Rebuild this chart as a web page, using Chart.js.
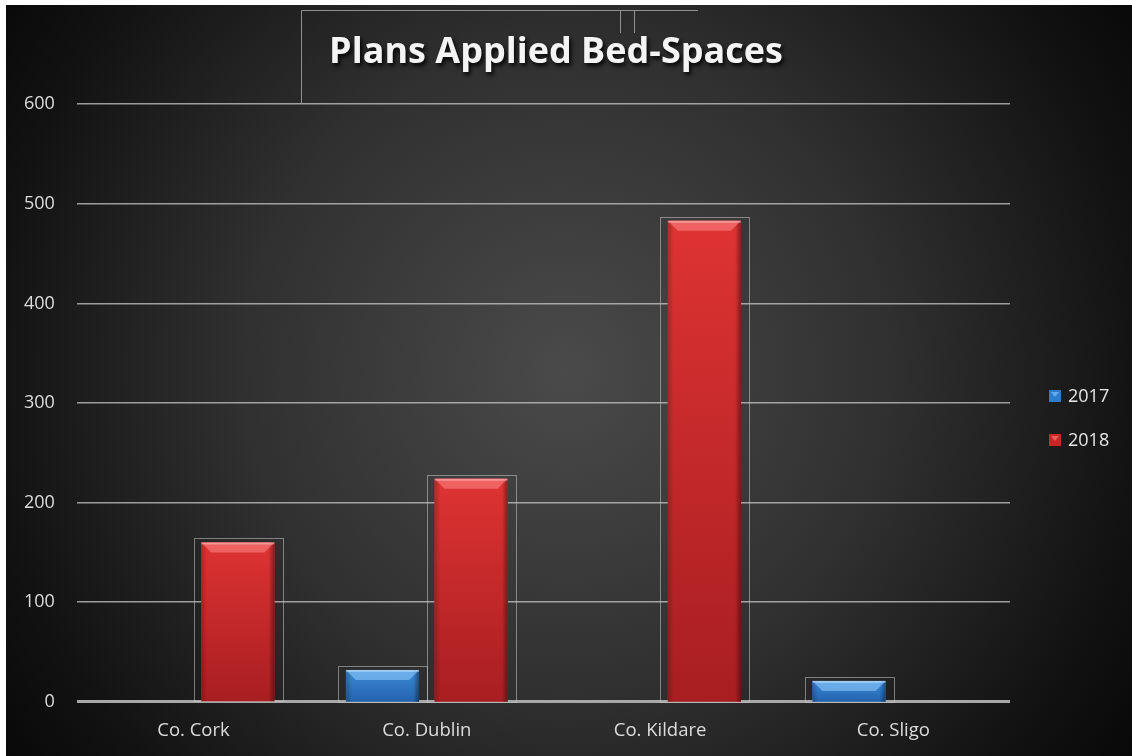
<!DOCTYPE html>
<html>
<head>
<meta charset="utf-8">
<script src="https://cdn.jsdelivr.net/npm/chart.js@4.4.1/dist/chart.umd.min.js"></script>
<style>
  html, body { margin: 0; padding: 0; background: #ffffff; }
  #wrap { width: 1132px; height: 756px; position: relative; }
</style>
</head>
<body>
<div id="wrap"><canvas id="c" width="1132" height="756"></canvas></div>
<script>
const categories = ['Co. Cork', 'Co. Dublin', 'Co. Kildare', 'Co. Sligo'];
const seriesNames = ['2017', '2018'];
const values2017 = [null, 32, null, 21];
const values2018 = [160, 224, 483, null];
const yTicks = [0, 100, 200, 300, 400, 500, 600];
const titleText = 'Plans Applied Bed-Spaces';

const bgPlugin = {
  id: 'bg',
  beforeDraw(chart) {
    const ctx = chart.ctx;
    const W = chart.width, H = chart.height;
    ctx.save();
    ctx.fillStyle = '#ffffff';
    ctx.fillRect(0, 0, W, H);
    const g = ctx.createRadialGradient(566, 370, 0, 566, 370, 720);
    g.addColorStop(0, '#4a4a4a');
    g.addColorStop(0.45, '#303030');
    g.addColorStop(0.8, '#121212');
    g.addColorStop(1, '#050505');
    ctx.fillStyle = g;
    ctx.fillRect(6, 5, W - 6, H - 5);
    ctx.strokeStyle = 'rgba(170,170,170,0.8)';
    ctx.lineWidth = 1;
    ctx.beginPath();
    ctx.moveTo(301.5, 103); ctx.lineTo(301.5, 10.5); ctx.lineTo(698, 10.5);
    ctx.moveTo(620.5, 10.5); ctx.lineTo(620.5, 33);
    ctx.moveTo(634.5, 10.5); ctx.lineTo(634.5, 33);
    ctx.stroke();
    ctx.restore();
  }
};

function shade(ctx, x0, y0, x1, y1, stops) {
  const g = ctx.createLinearGradient(x0, y0, x1, y1);
  stops.forEach(s => g.addColorStop(s[0], s[1]));
  return g;
}

const bevelPlugin = {
  id: 'bevel',
  afterDatasetsDraw(chart) {
    const ctx = chart.ctx;
    const base = chart.scales.y.getPixelForValue(0);
    chart.data.datasets.forEach((ds, di) => {
      const meta = chart.getDatasetMeta(di);
      if (meta.hidden) return;
      const pal = ds._pal;
      meta.data.forEach((bar, i) => {
        if (ds.data[i] == null) return;
        const w = bar.width, x = bar.x - w / 2, top = bar.y, h = base - top;
        ctx.save();
        ctx.fillStyle = shade(ctx, 0, top, 0, base, [[0, pal.top], [1, pal.bottom]]);
        ctx.fillRect(x, top, w, h);
        ctx.fillStyle = shade(ctx, x, 0, x + w, 0, [[0, 'rgba(0,0,0,0.2)'], [0.08, 'rgba(0,0,0,0)'], [0.92, 'rgba(0,0,0,0)'], [1, 'rgba(0,0,0,0.4)']]);
        ctx.fillRect(x, top, w, h);
        const b = Math.min(10, h / 2);
        ctx.fillStyle = pal.bevel;
        ctx.beginPath();
        ctx.moveTo(x, top); ctx.lineTo(x + w, top); ctx.lineTo(x + w - b, top + b); ctx.lineTo(x + b, top + b);
        ctx.closePath(); ctx.fill();
        ctx.fillStyle = 'rgba(255,255,255,0.35)';
        ctx.fillRect(x, top, w, 2);
        const slot = w / 0.825;
        ctx.strokeStyle = 'rgba(200,200,200,0.55)';
        ctx.lineWidth = 1;
        ctx.strokeRect(Math.round(bar.x - slot / 2) + 0.5, Math.round(top - 4) + 0.5, Math.round(slot), Math.round(base - top + 4));
        ctx.restore();
      });
    });
  }
};

const legendPlugin = {
  id: 'sideLegend',
  afterDraw(chart) {
    const ctx = chart.ctx;
    const x0 = 1049, ys = [396, 440];
    ctx.save();
    ctx.font = '18px "Open Sans"';
    ctx.textBaseline = 'middle';
    chart.data.datasets.forEach((ds, i) => {
      const y = ys[i];
      const pal = ds._pal;
      ctx.fillStyle = ds.backgroundColor;
      ctx.fillRect(x0, y - 6, 12, 12);
      ctx.fillStyle = pal.bevel;
      ctx.beginPath();
      ctx.moveTo(x0 + 2, y - 4); ctx.lineTo(x0 + 10, y - 4); ctx.lineTo(x0 + 6, y + 1);
      ctx.closePath(); ctx.fill();
      ctx.fillStyle = '#e6e6e6';
      ctx.fillText(ds.label, x0 + 19, y + 1);
    });
    ctx.restore();
  }
};

const ctx = document.getElementById('c').getContext('2d');
const chart = new Chart(ctx, {
  type: 'bar',
  data: {
    labels: categories,
    datasets: [
      { label: seriesNames[0], data: values2017, backgroundColor: '#2f7ccc', borderWidth: 0,
        _pal: { top: '#3a8ad8', bottom: '#2462ac', bevel: 'rgba(140,200,250,0.6)' } },
      { label: seriesNames[1], data: values2018, backgroundColor: '#c42828', borderWidth: 0,
        _pal: { top: '#de3333', bottom: '#a81e21', bevel: 'rgba(250,130,130,0.6)' } }
    ]
  },
  options: {
    responsive: false,
    animation: false,
    devicePixelRatio: 1,
    layout: { padding: { left: 2, right: 122, top: 5, bottom: 4 } },
    datasets: { bar: { barPercentage: 0.825, categoryPercentage: 0.76 } },
    plugins: {
      title: {
        display: true,
        text: titleText,
        color: '#f4f4f4',
        font: { family: 'Open Sans', size: 36, weight: 'bold' },
        padding: { top: 26, bottom: 30 }
      },
      legend: { display: false },
      tooltip: { enabled: false }
    },
    scales: {
      x: {
        grid: { display: false },
        border: { display: false },
        ticks: { color: '#dcdcdc', font: { family: 'Open Sans', size: 18.5 }, padding: 10 }
      },
      y: {
        min: 0, max: 600,
        afterBuildTicks(scale) { scale.ticks = yTicks.map(v => ({ value: v })); },
        border: { display: false },
        grid: {
          drawTicks: false,
          color: c => c.tick && c.tick.value === 0 ? '#a8a8a8' : 'rgba(200,200,200,0.75)',
          lineWidth: c => c.tick && c.tick.value === 0 ? 3 : 1.5
        },
        ticks: { color: '#dcdcdc', font: { family: 'Open Sans', size: 18 }, padding: 22 }
      }
    }
  },
  plugins: [bgPlugin, bevelPlugin, legendPlugin]
});
const tb = chart.titleBlock;
if (tb) {
  const orig = tb.draw.bind(tb);
  tb.draw = function () {
    const c = this.ctx;
    c.save();
    c.translate(556 - (this.left + this.right) / 2, 0);
    c.shadowColor = 'rgba(0,0,0,0.9)';
    c.shadowOffsetX = 2; c.shadowOffsetY = 3; c.shadowBlur = 4;
    orig();
    c.restore();
  };
  chart.draw();
}
</script>
</body>
</html>
